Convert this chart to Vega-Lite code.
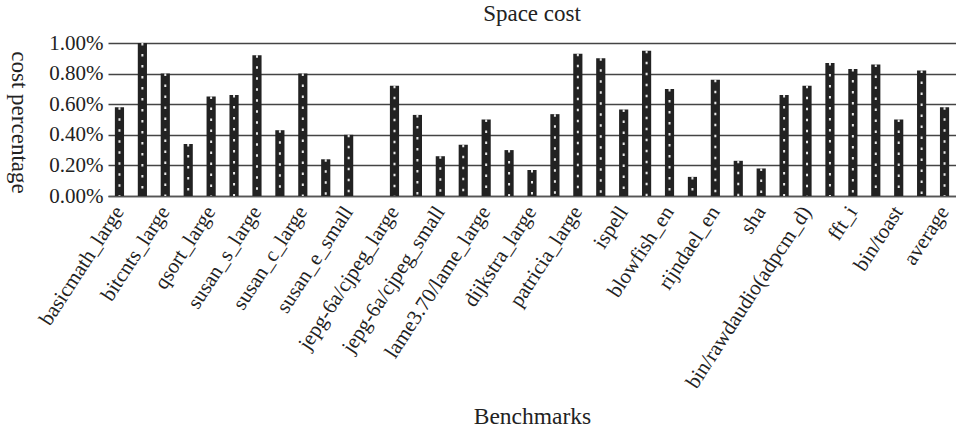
{
  "$schema": "https://vega.github.io/schema/vega-lite/v6.json",
  "width": 848,
  "height": 153,
  "autosize": {"type": "none"},
  "padding": {"left": 108, "top": 43, "right": 0, "bottom": 244},
  "background": "white",
  "title": {"text": "Space cost", "font": "Liberation Serif", "fontSize": 23, "fontWeight": "normal", "color": "#222", "offset": 6},
  "config": {"view": {"stroke": null}, "font": "Liberation Serif"},
  "data": {
    "values": [
      {"benchmark": "basicmath_large", "cost": 0.58},
      {"benchmark": "basicmath_small", "cost": 1.0},
      {"benchmark": "bitcnts_large", "cost": 0.8},
      {"benchmark": "bitcnts_small", "cost": 0.34},
      {"benchmark": "qsort_large", "cost": 0.65},
      {"benchmark": "qsort_small", "cost": 0.66},
      {"benchmark": "susan_s_large", "cost": 0.92},
      {"benchmark": "susan_s_small", "cost": 0.43},
      {"benchmark": "susan_c_large", "cost": 0.8},
      {"benchmark": "susan_c_small", "cost": 0.24},
      {"benchmark": "susan_e_small", "cost": 0.4},
      {"benchmark": "susan_e_large", "cost": null},
      {"benchmark": "jepg-6a/cjpeg_large", "cost": 0.72},
      {"benchmark": "jepg-6a/djpeg_large", "cost": 0.53},
      {"benchmark": "jepg-6a/cjpeg_small", "cost": 0.26},
      {"benchmark": "jepg-6a/djpeg_small", "cost": 0.335},
      {"benchmark": "lame3.70/lame_large", "cost": 0.5},
      {"benchmark": "lame3.70/lame_small", "cost": 0.3},
      {"benchmark": "dijkstra_large", "cost": 0.17},
      {"benchmark": "dijkstra_small", "cost": 0.535},
      {"benchmark": "patricia_large", "cost": 0.93},
      {"benchmark": "patricia_small", "cost": 0.9},
      {"benchmark": "ispell", "cost": 0.565},
      {"benchmark": "rsynth", "cost": 0.95},
      {"benchmark": "blowfish_en", "cost": 0.7},
      {"benchmark": "blowfish_de", "cost": 0.125},
      {"benchmark": "rijndael_en", "cost": 0.76},
      {"benchmark": "rijndael_de", "cost": 0.23},
      {"benchmark": "sha", "cost": 0.18},
      {"benchmark": "bin/rawcaudio(adpcm_c)", "cost": 0.66},
      {"benchmark": "bin/rawdaudio(adpcm_d)", "cost": 0.72},
      {"benchmark": "crc32", "cost": 0.87},
      {"benchmark": "fft_i", "cost": 0.83},
      {"benchmark": "fft", "cost": 0.86},
      {"benchmark": "bin/toast", "cost": 0.5},
      {"benchmark": "bin/untoast", "cost": 0.82},
      {"benchmark": "average", "cost": 0.58}
    ]
  },
  "encoding": {
    "x": {
      "field": "benchmark",
      "type": "nominal",
      "scale": {
        "domain": ["basicmath_large", "basicmath_small", "bitcnts_large", "bitcnts_small", "qsort_large", "qsort_small", "susan_s_large", "susan_s_small", "susan_c_large", "susan_c_small", "susan_e_small", "susan_e_large", "jepg-6a/cjpeg_large", "jepg-6a/djpeg_large", "jepg-6a/cjpeg_small", "jepg-6a/djpeg_small", "lame3.70/lame_large", "lame3.70/lame_small", "dijkstra_large", "dijkstra_small", "patricia_large", "patricia_small", "ispell", "rsynth", "blowfish_en", "blowfish_de", "rijndael_en", "rijndael_de", "sha", "bin/rawcaudio(adpcm_c)", "bin/rawdaudio(adpcm_d)", "crc32", "fft_i", "fft", "bin/toast", "bin/untoast", "average"],
        "paddingInner": 0.6,
        "paddingOuter": 0.3
      },
      "axis": {
        "values": ["basicmath_large", "bitcnts_large", "qsort_large", "susan_s_large", "susan_c_large", "susan_e_small", "jepg-6a/cjpeg_large", "jepg-6a/cjpeg_small", "lame3.70/lame_large", "dijkstra_large", "patricia_large", "ispell", "blowfish_en", "rijndael_en", "sha", "bin/rawdaudio(adpcm_d)", "fft_i", "bin/toast", "average"],
        "title": "Benchmarks",
        "titleFont": "Liberation Serif",
        "titleFontSize": 23.5,
        "titleFontWeight": "normal",
        "titleColor": "#222",
        "titleY": 220,
        "titleBaseline": "middle",
        "labelAngle": -57,
        "labelFont": "Liberation Serif",
        "labelFontSize": 21,
        "labelColor": "#222",
        "labelPadding": 12,
        "labelOverlap": false,
        "labelBound": false,
        "labelLimit": 400,
        "ticks": false,
        "domain": true,
        "domainColor": "#555",
        "domainWidth": 1.5,
        "grid": false
      }
    },
    "y": {
      "field": "cost",
      "type": "quantitative",
      "scale": {"domain": [0, 1]},
      "axis": {
        "values": [0, 0.2, 0.4, 0.6, 0.8, 1.0],
        "labelExpr": "format(datum.value, '.2f') + '%'",
        "labelFont": "Liberation Serif",
        "labelFontSize": 21,
        "labelColor": "#222",
        "labelPadding": 5,
        "labelOverlap": false,
        "labelBound": false,
        "ticks": false,
        "domain": false,
        "grid": true,
        "gridColor": "#444",
        "gridWidth": 1.3,
        "title": "cost percentage",
        "titleFont": "Liberation Serif",
        "titleFontSize": 23,
        "titleFontWeight": "normal",
        "titleColor": "#222",
        "titleAngle": 90,
        "titleX": -90,
        "titleY": 79,
        "titleAlign": "center",
        "titleBaseline": "middle"
      }
    }
  },
  "layer": [
    {
      "mark": {"type": "bar", "color": "#222"}
    },
    {
      "mark": {"type": "rule", "color": "white", "strokeWidth": 2, "strokeDash": [2.5, 8.5], "opacity": 0.9},
      "encoding": {
        "y2": {"datum": 0}
      }
    }
  ]
}
